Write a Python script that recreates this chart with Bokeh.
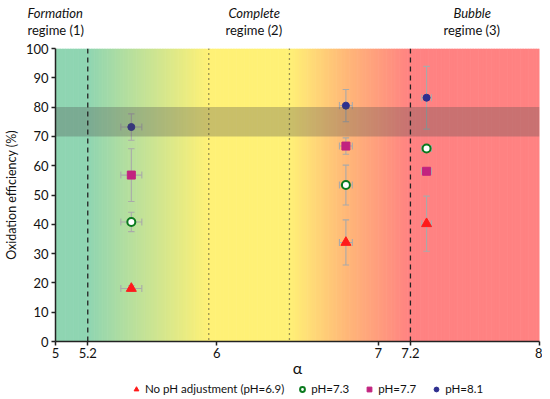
import numpy as np
from bokeh.plotting import figure
from bokeh.layouts import column, row
from bokeh.models import (Span, BoxAnnotation, Legend, LegendItem, FixedTicker)
from bokeh.core.properties import value
from bokeh.embed import file_html
from bokeh.resources import INLINE

# ---------------- data ----------------
series = ["No pH adjustment (pH=6.9)", "pH=7.3", "pH=7.7", "pH=8.1"]
alpha_vals = [5.47, 6.80, 7.30]
alpha_err = [0.065, 0.04, 0.03]
eff_noph = [18.1, 33.8, 40.2]
err_noph = [1.0, 7.7, 9.4]
eff_73 = [40.8, 53.4, 65.9]
err_73 = [3.3, 6.8, 1.0]
eff_77 = [56.8, 66.7, 58.1]
err_77 = [9.0, 2.8, 1.0]
eff_81 = [73.2, 80.5, 83.2]
err_81 = [4.5, 5.5, 10.7]

x_ticks = [5, 5.2, 6, 7, 7.2, 8]
y_ticks = list(range(0, 101, 10))
regime_bounds = [5.2, 7.2]
complete_bounds = [5.95, 6.45]
target_band = [70, 80]
regime_name = ["Formation", "Complete", "Bubble"]
regime_sub = ["regime (1)", "regime (2)", "regime (3)"]
# left edges of the regime captions (in alpha units)
name_left = [4.826, 6.072, 7.467]
sub_left = [4.826, 6.054, 7.405]

FONT = "Lato"
W = 542
BL, BR = 55, 3
TOP_H = 41
MAIN_H = 338
AX_H = 30
LEG_H = 16

# ---------------- main figure ----------------
p = figure(width=W, height=MAIN_H, x_range=(5, 8), y_range=(0, 100),
           output_backend="svg", toolbar_location=None,
           min_border_left=BL, min_border_right=BR, min_border_top=7,
           min_border_bottom=AX_H)
p.outline_line_color = None
p.xgrid.visible = False
p.ygrid.visible = False

# background gradient
stops = [(5.0, "#8fd5b2"), (5.2, "#8fd5b2"), (5.95, "#fff176"),
         (6.45, "#fff176"), (6.8, "#ffb878"), (7.2, "#ff8282"), (8.0, "#ff8282")]

def hex2rgb(h):
    return np.array([int(h[i:i + 2], 16) for i in (1, 3, 5)], dtype=float)

sx = [s[0] for s in stops]
cols = np.array([hex2rgb(s[1]) for s in stops])
edges = np.linspace(5, 8, 301)
mids = (edges[:-1] + edges[1:]) / 2
colors = []
for m in mids:
    rgb = [np.interp(m, sx, cols[:, k]) for k in range(3)]
    colors.append("#%02x%02x%02x" % tuple(int(round(c)) for c in rgb))
p.quad(left=edges[:-1], right=edges[1:] + 0.004, bottom=0, top=100,
       fill_color=colors, line_color=None)

p.add_layout(BoxAnnotation(bottom=target_band[0], top=target_band[1],
                           fill_color="#4d4d4d", fill_alpha=0.3, line_color=None,
                           level="glyph"))

for xv in regime_bounds:
    p.add_layout(Span(location=xv, dimension="height", line_color="#222222",
                      line_width=1.3, line_dash="5 4"))
for xv in complete_bounds:
    p.add_layout(Span(location=xv, dimension="height", line_color="#333333",
                      line_width=1.3, line_dash="1 4"))

# error bars
ERR_COL = "#aaaaaa"
capx = 0.02
capy = 1.2

def error_bars(yv, ye):
    xs = np.array(alpha_vals)
    ys = np.array(yv)
    es = np.array(ye)
    xe = np.array(alpha_err)
    kw = dict(line_color=ERR_COL, line_width=1.1)
    p.segment(xs, ys - es, xs, ys + es, **kw)
    p.segment(xs - capx, ys + es, xs + capx, ys + es, **kw)
    p.segment(xs - capx, ys - es, xs + capx, ys - es, **kw)
    p.segment(xs - xe, ys, xs + xe, ys, **kw)
    p.segment(xs - xe, ys - capy, xs - xe, ys + capy, **kw)
    p.segment(xs + xe, ys - capy, xs + xe, ys + capy, **kw)

for yv, ye in [(eff_noph, err_noph), (eff_73, err_73), (eff_77, err_77), (eff_81, err_81)]:
    error_bars(yv, ye)

styles = [dict(marker="triangle", size=10, fill_color="#ff1a1a", line_color="#ff1a1a"),
          dict(marker="circle", size=8, fill_color="white", line_color="#0a7a1e", line_width=2),
          dict(marker="square", size=8, fill_color="#c2237f", line_color="#c2237f"),
          dict(marker="circle", size=7, fill_color="#2e2f8f", line_color="#2e2f8f")]
for yv, st in zip([eff_noph, eff_73, eff_77, eff_81], styles):
    p.scatter(alpha_vals, yv, **st)

# axes
p.xaxis.ticker = FixedTicker(ticks=x_ticks)
p.xaxis.major_label_overrides = {5: "5", 5.2: "5.2", 6: "6", 7: "7", 7.2: "7.2", 8: "8"}
p.yaxis.ticker = FixedTicker(ticks=y_ticks)
p.xaxis.minor_tick_line_color = None
p.yaxis.minor_tick_line_color = None
for ax in (p.xaxis, p.yaxis):
    ax.axis_line_color = "#222222"
    ax.axis_line_width = 1.5
    ax.major_tick_line_color = "#222222"
    ax.major_tick_line_width = 1.5
    ax.major_tick_in = 0
    ax.major_tick_out = 4
    ax.major_label_text_font = FONT
    ax.major_label_text_font_size = "13px"
    ax.major_label_text_color = "#111111"
    ax.axis_label_text_font = FONT
    ax.axis_label_text_font_style = "normal"
    ax.axis_label_text_color = "#111111"
p.xaxis.major_label_standoff = 2
p.yaxis.major_label_standoff = 3
p.xaxis.axis_label = "α"
p.xaxis.axis_label_text_font_size = "16px"
p.xaxis.axis_label_standoff = -3
p.yaxis.axis_label = "Oxidation efficiency (%)"
p.yaxis.axis_label_text_font_size = "12.5px"
p.yaxis.axis_label_standoff = 4

# ---------------- top figure: regime captions ----------------
ppu = (W - BL - BR) / 3.0
top = figure(width=550, height=TOP_H, x_range=(5 - BL / ppu, 5 + (550 - BL) / ppu),
             y_range=(0, TOP_H), output_backend="svg", toolbar_location=None,
             min_border=0)
top.axis.visible = False
top.grid.visible = False
top.outline_line_color = None
top.text(x=name_left, y=[29] * 3, text=regime_name, text_font=value(FONT),
         text_font_size="13px", text_font_style="italic", text_align="left",
         text_baseline="middle", text_color="#111111")
top.text(x=sub_left, y=[12] * 3, text=regime_sub, text_font=value(FONT),
         text_font_size="13px", text_align="left",
         text_baseline="middle", text_color="#111111")

# ---------------- legend figure ----------------
leg = figure(width=W, height=LEG_H, x_range=(0, 1), y_range=(0, 1),
             output_backend="svg", toolbar_location=None, min_border=0)
leg.axis.visible = False
leg.grid.visible = False
leg.outline_line_color = None
items = []
for name, st in zip(series, styles):
    r = leg.scatter([-5], [-5], **st)
    items.append(LegendItem(label=name, renderers=[r]))
legend = Legend(items=items, orientation="horizontal", location=(75, 0),
                label_text_font=FONT, label_text_font_size="11.5px",
                label_text_color="#111111", glyph_width=12, glyph_height=12,
                label_standoff=3, spacing=12, padding=0, margin=0, label_width=40,
                border_line_color=None, background_fill_alpha=0)
leg.add_layout(legend)

layout = column(row(top), p, leg, spacing=0)
open("out.html", "w").write(file_html(layout, INLINE))
